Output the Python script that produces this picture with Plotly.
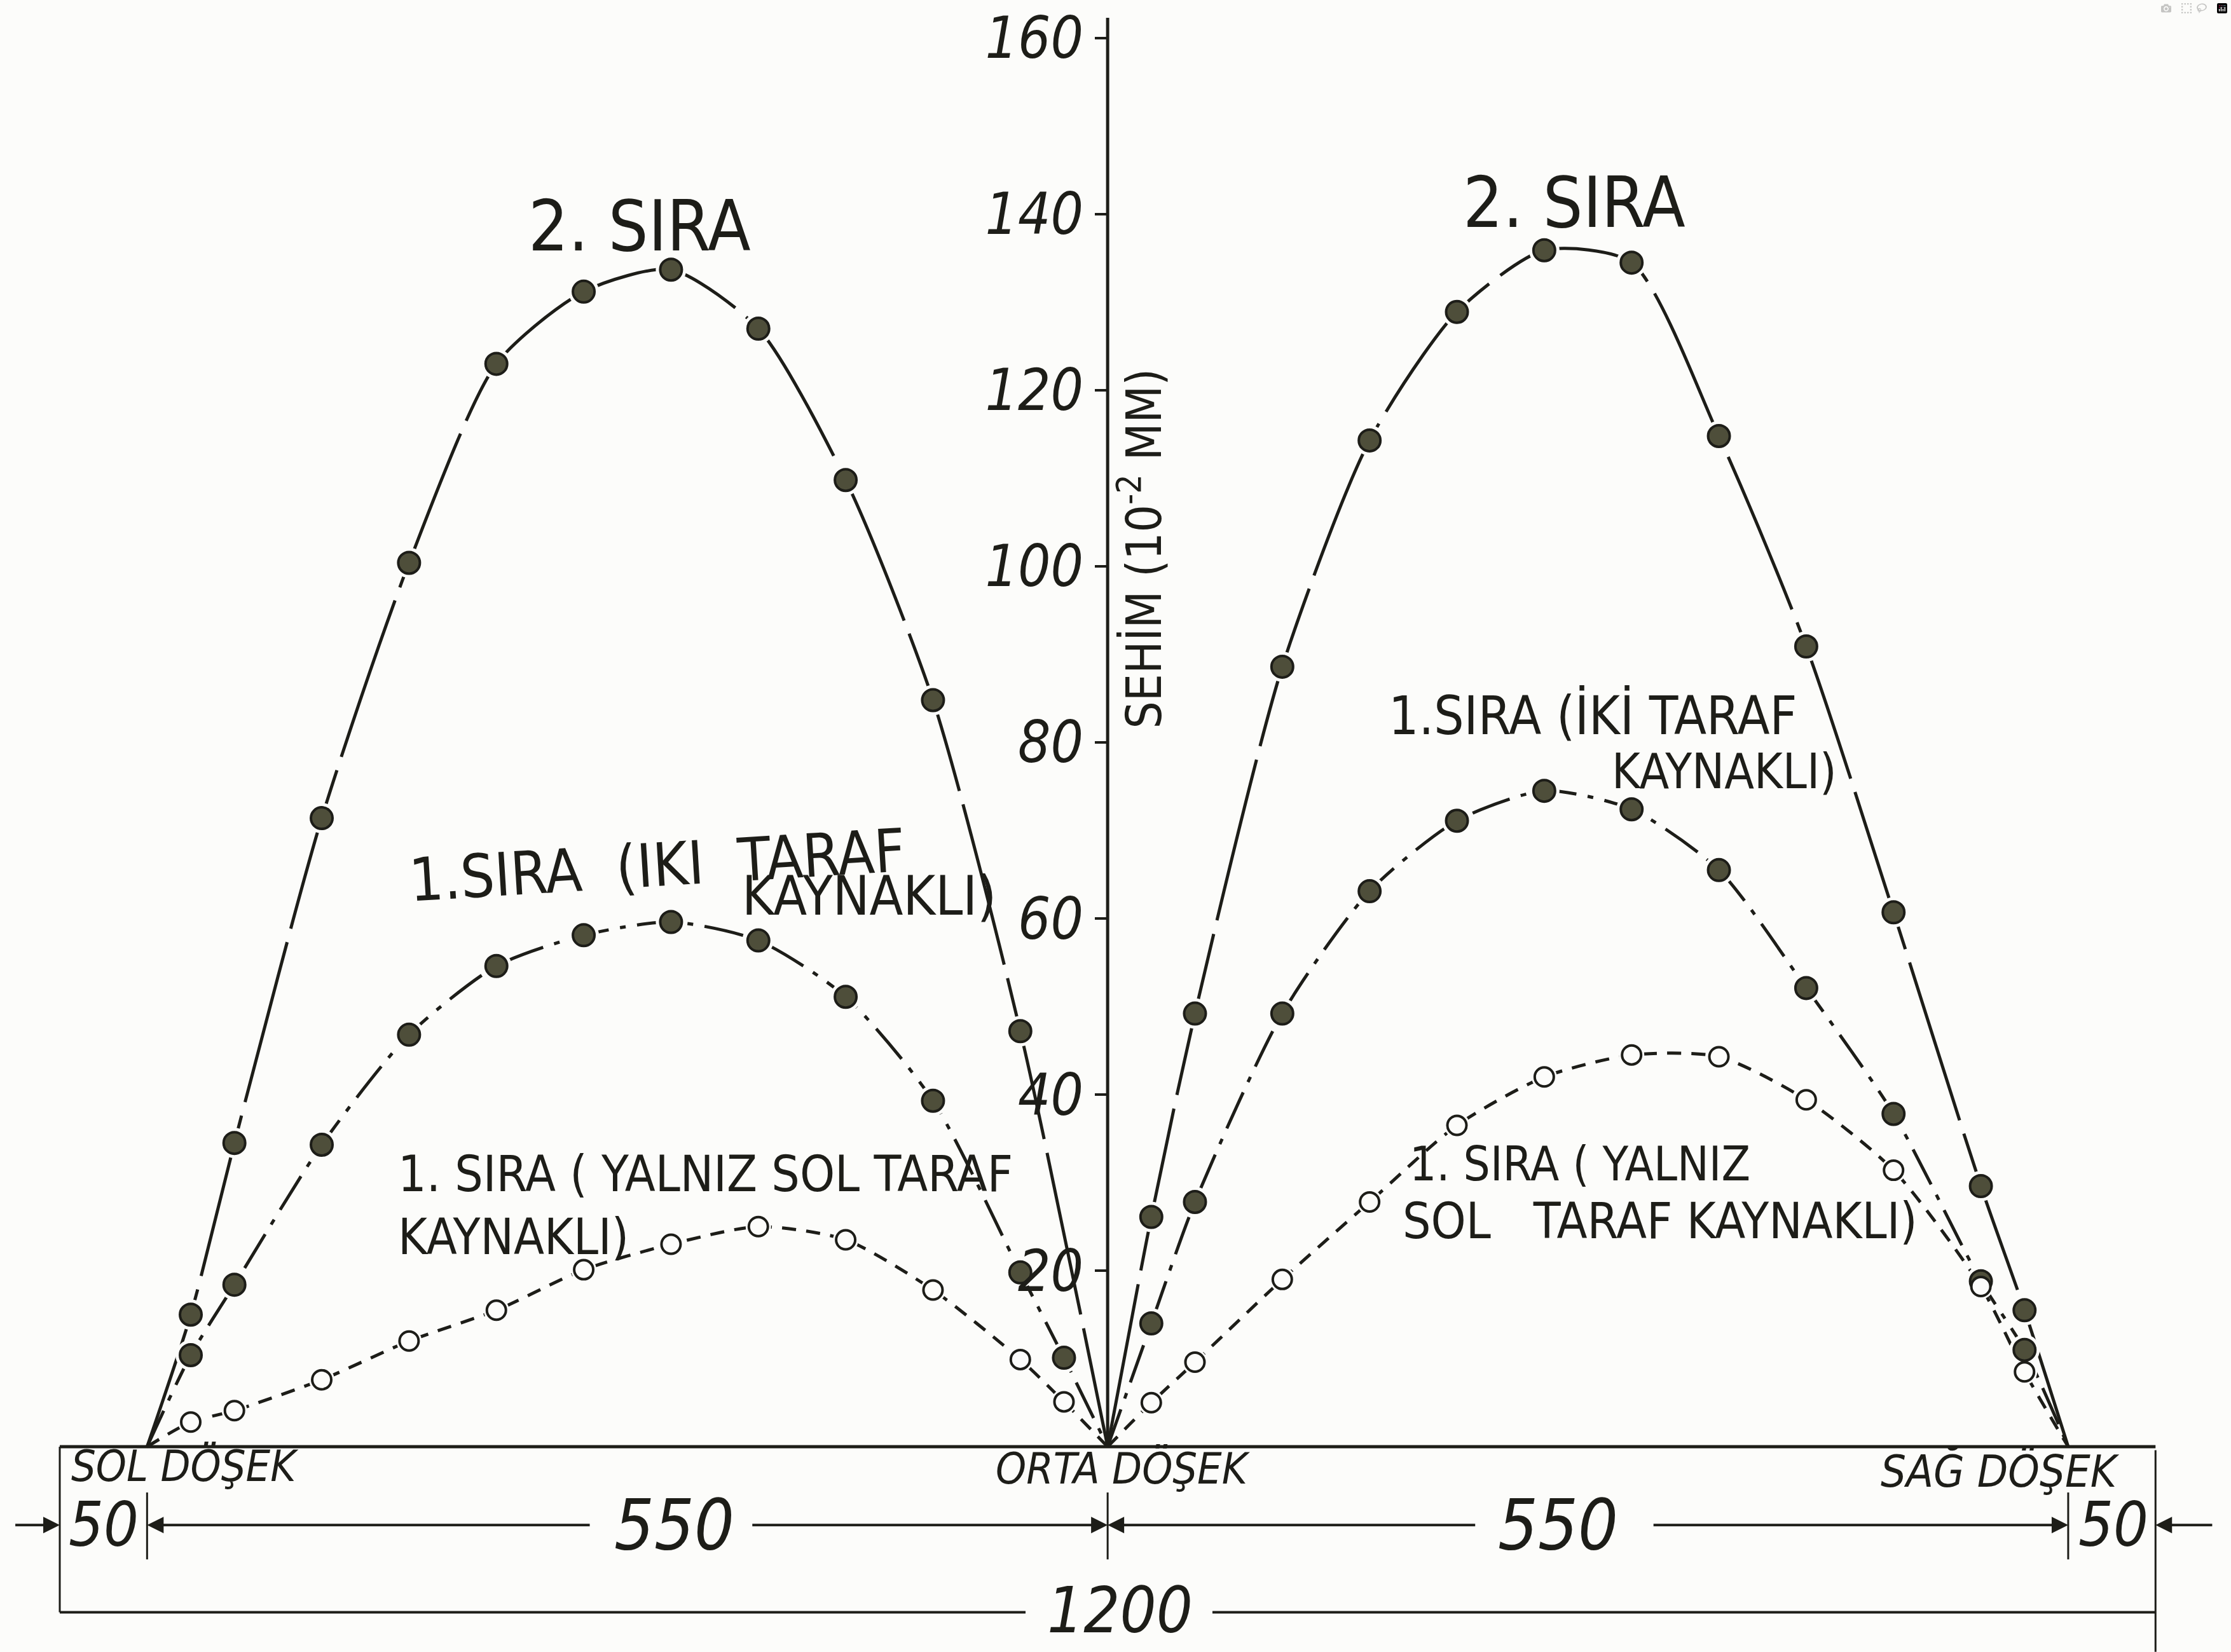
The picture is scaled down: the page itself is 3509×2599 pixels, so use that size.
import plotly.graph_objects as go

# ---------------- data: deflection (SEHİM, 10^-2 mm) vs position (cm) ----------------
x_left = [50, 75, 100, 150, 200, 250, 300, 350, 400, 450, 500, 550, 575, 600]
x_left_sira2 = [50, 75, 100, 150, 200, 250, 300, 350, 400, 450, 500, 550, 600]
x_right = [600, 625, 650, 700, 750, 800, 850, 900, 950, 1000, 1050, 1100, 1125, 1150]

sira2_left = [0, 15.0, 34.5, 71.4, 100.4, 123.0, 131.2, 133.7, 127.0, 109.8, 84.8, 47.2, 0]
sira2_right = [0, 26.1, 49.2, 88.6, 114.3, 128.9, 135.9, 134.5, 114.8, 90.9, 60.7, 29.6, 15.5, 0]

sira1_iki_left = [0, 10.4, 18.4, 34.3, 46.8, 54.6, 58.1, 59.6, 57.5, 51.1, 39.3, 19.8, 10.1, 0]
sira1_iki_right = [0, 14.0, 27.8, 49.2, 63.1, 71.1, 74.5, 72.4, 65.5, 52.1, 37.8, 18.8, 11.0, 0]

sira1_yalniz_left = [0, 2.8, 4.1, 7.6, 12.0, 15.5, 20.1, 23.0, 25.0, 23.5, 17.8, 9.9, 5.1, 0]
sira1_yalniz_right = [0, 5.0, 9.6, 19.0, 27.8, 36.5, 42.0, 44.5, 44.3, 39.4, 31.4, 18.2, 8.5, 0]

y_ticks = [20, 40, 60, 80, 100, 120, 140, 160]
y_tick_labels = ["20", "40", "60", "80", "100", "120", "140", "160"]

support_x = [50, 600, 1150]
support_names = ["SOL DÖŞEK", "ORTA DÖŞEK", "SAĞ DÖŞEK"]
span_labels = ["50", "550", "550", "50"]
total_label = "1200"

# ---------------- styling ----------------
INK = "#1d1d18"
BG = "#fcfcfa"
FILL = "#4e4e3a"
HAND = "Liberation Sans Narrow, DejaVu Sans Condensed, Liberation Sans, sans-serif"

DASH_2 = "260px,22px"
DASH_IKI = "62px,18px,9px,18px"
DASH_Y = "22px,16px"

X_RANGE = [-34.22, 1243.22]
Y_RANGE = [-23.32, 164.33]

fig = go.Figure()

series = [
    ("2. SIRA sol", x_left_sira2, sira2_left, DASH_2, True),
    ("2. SIRA sağ", x_right, sira2_right, DASH_2, True),
    ("1. SIRA iki taraf sol", x_left, sira1_iki_left, DASH_IKI, True),
    ("1. SIRA iki taraf sağ", x_right, sira1_iki_right, DASH_IKI, True),
    ("1. SIRA yalnız sol sol", x_left, sira1_yalniz_left, DASH_Y, False),
    ("1. SIRA yalnız sol sağ", x_right, sira1_yalniz_right, DASH_Y, False),
]

for name, xs, ys, dash, filled in series:
    fig.add_trace(go.Scatter(
        x=xs, y=ys, mode="lines", name=name, showlegend=False, hoverinfo="skip",
        line=dict(color=INK, width=5, dash=dash, shape="spline", smoothing=0.7),
    ))
for name, xs, ys, dash, filled in series:
    fig.add_trace(go.Scatter(
        x=xs[1:-1], y=ys[1:-1], mode="markers", showlegend=False, hoverinfo="skip",
        marker=dict(size=48 if filled else 40, color=BG, line=dict(width=0)),
    ))
for name, xs, ys, dash, filled in series:
    fig.add_trace(go.Scatter(
        x=xs[1:-1], y=ys[1:-1], mode="markers", name=name, showlegend=False,
        marker=dict(size=34 if filled else 30, color=FILL if filled else BG,
                    line=dict(color=INK, width=4)),
    ))

shapes = []


def seg(x0, y0, x1, y1, w=4):
    shapes.append(dict(type="line", xref="x", yref="y", x0=x0, y0=y0, x1=x1, y1=y1,
                       line=dict(color=INK, width=w)))


# vertical axis line
seg(600, 0, 600, 162.3, 5)
# beam / box
seg(0, 0, 1200, 0, 5)
seg(0, 0, 0, -18.8, 3)
seg(1200, -0.4, 1200, -23.3, 3)
# support ticks on dimension row
for sx in support_x:
    seg(sx, -5.2, sx, -12.8, 3)
# total dimension line
seg(0, -18.8, 553, -18.8, 4)
seg(660, -18.8, 1200, -18.8, 4)

annotations = []


def txt(x, y, s, size, anchor="center", angle=0, italic=False):
    annotations.append(dict(
        x=x, y=y, xref="x", yref="y", text=s, showarrow=False, xanchor=anchor,
        yanchor="middle", textangle=angle,
        font=dict(family=HAND, size=size, color=INK, style="italic" if italic else "normal"),
    ))


def arrow(x_tip, x_tail, y):
    annotations.append(dict(
        x=x_tip, y=y, ax=x_tail, ay=y, xref="x", yref="y", axref="x", ayref="y",
        text="", showarrow=True, arrowhead=2, arrowsize=1.3, arrowwidth=4,
        arrowcolor=INK, standoff=0, startstandoff=0,
    ))


# curve labels
txt(332, 138.6, "2. SIRA", 110)
txt(867, 141.3, "2. SIRA", 110)
txt(198, 66.0, "1.SIRA  (IKI  TARAF", 94, "left", -3.5)
txt(390, 62.6, "KAYNAKLI)", 86, "left")
txt(193, 31.0, "1. SIRA ( YALNIZ SOL TARAF", 78, "left")
txt(193, 23.8, "KAYNAKLI)", 78, "left")
txt(760, 83.0, "1.SIRA (İKİ TARAF", 83, "left")
txt(888, 76.7, "KAYNAKLI)", 76, "left")
txt(772, 32.1, "1. SIRA ( YALNIZ", 74, "left")
txt(768, 25.6, "SOL   TARAF KAYNAKLI)", 78, "left")

# axis title
txt(619, 102, "SEHİM (10<sup>-2</sup> MM)", 76, "center", -90)

# support names
txt(6, -2.2, support_names[0], 68, "left", 0, True)
txt(535, -2.5, support_names[1], 68, "left", 0, True)
txt(1042, -2.8, support_names[2], 70, "left", 0, True)

# dimension row 1
ROW1 = -8.9
arrow(0, -26, ROW1)
txt(25, ROW1, span_labels[0], 96, "center", 0, True)
arrow(50, 304, ROW1)
txt(352, ROW1, span_labels[1], 110, "center", 0, True)
arrow(600, 396, ROW1)
arrow(600, 811, ROW1)
txt(858, ROW1, span_labels[2], 110, "center", 0, True)
arrow(1150, 912, ROW1)
txt(1176, ROW1, span_labels[3], 96, "center", 0, True)
arrow(1200, 1233, ROW1)

# dimension row 2
txt(607, -18.6, total_label, 100, "center", 0, True)

fig.update_layout(
    width=3509, height=2599,
    margin=dict(l=0, r=0, t=0, b=0, pad=0),
    paper_bgcolor=BG, plot_bgcolor=BG,
    showlegend=False,
    shapes=shapes, annotations=annotations,
    xaxis=dict(range=X_RANGE, visible=False, fixedrange=True),
    yaxis=dict(
        range=Y_RANGE, anchor="free", position=(600 - X_RANGE[0]) / (X_RANGE[1] - X_RANGE[0]),
        tickvals=y_ticks, ticktext=y_tick_labels, ticks="outside", ticklen=20, tickwidth=4,
        tickcolor=INK, showline=False, showgrid=False, zeroline=False, automargin=False,
        ticklabeloverflow="allow",
        tickfont=dict(family=HAND, size=90, color=INK, style="italic"), fixedrange=True,
    ),
)

fig.write_html("out.html")
with open("out.html", "r", encoding="utf-8") as f:
    html = f.read()
html = html.replace("<head>", "<head><style>html,body{margin:0;padding:0;overflow:hidden;background:#fcfcfa}</style>", 1)
with open("out.html", "w", encoding="utf-8") as f:
    f.write(html)
